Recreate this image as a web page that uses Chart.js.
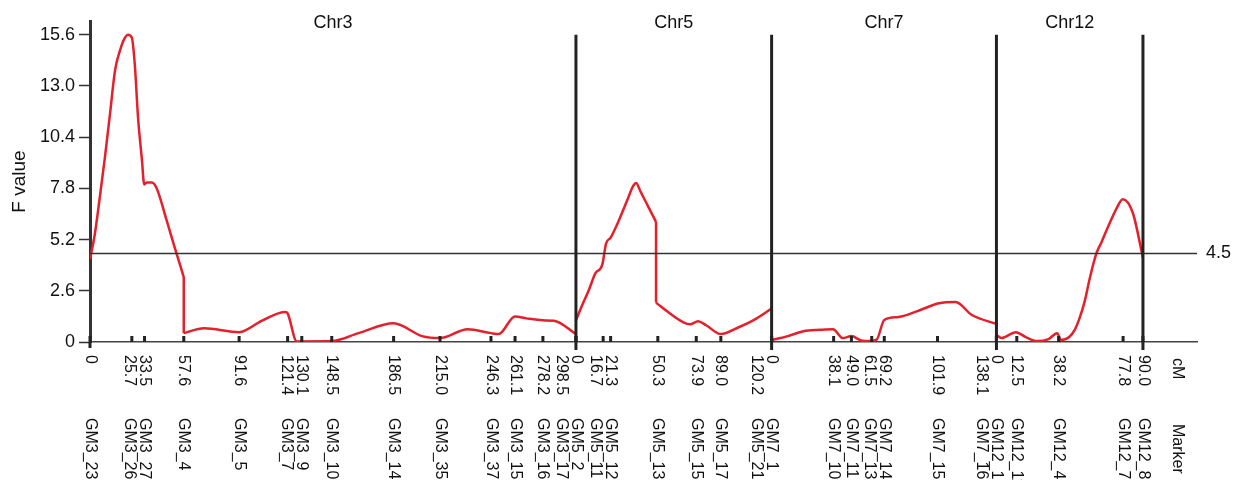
<!DOCTYPE html>
<html>
<head>
<meta charset="utf-8">
<script src="https://cdn.jsdelivr.net/npm/chart.js@4.4.1/dist/chart.umd.min.js"></script>
<style>
  html, body { margin: 0; padding: 0; background: #fff; }
  #wrap { width: 1237px; height: 480px; }
</style>
</head>
<body>
<div id="wrap"><canvas id="qtl" width="1237" height="480"></canvas></div>
<script>
// chromosomes and their lengths (cM)
const chromNames = ['Chr3', 'Chr5', 'Chr7', 'Chr12'];
const chromLengths = [298.5, 120.2, 138.1, 90.0];

// marker positions (cM) and names per chromosome
const chr3Markers = [0, 25.7, 33.5, 57.6, 91.6, 121.4, 130.1, 148.5, 186.5, 215.0, 246.3, 261.1, 278.2, 298.5];
const chr3Names = ['GM3_23', 'GM3_26', 'GM3_27', 'GM3_4', 'GM3_5', 'GM3_7', 'GM3_9', 'GM3_10', 'GM3_14', 'GM3_35', 'GM3_37', 'GM3_15', 'GM3_16', 'GM3_17'];
const chr5Markers = [0, 16.7, 21.3, 50.3, 73.9, 89.0, 120.2];
const chr5Names = ['GM5_2', 'GM5_11', 'GM5_12', 'GM5_13', 'GM5_15', 'GM5_17', 'GM5_21'];
const chr7Markers = [0, 38.1, 49.0, 61.5, 69.2, 101.9, 138.1];
const chr7Names = ['GM7_1', 'GM7_10', 'GM7_11', 'GM7_13', 'GM7_14', 'GM7_15', 'GM7_16'];
const chr12Markers = [0, 12.5, 38.2, 77.8, 90.0];
const chr12Names = ['GM12_1', 'GM12_11', 'GM12_4', 'GM12_7', 'GM12_8'];

// F value scan (cM within chromosome, F)
// a repeated position marks a vertical step in the scan
const chr3Pos = [0, 3, 6.1, 9.2, 12.3, 15.4, 18.4, 21.5, 23.3, 25.7, 27.6, 29.5, 31.9, 33.3, 35, 38, 41, 47, 52, 57.6, 57.6, 70, 91.6, 106, 120, 121.4, 127, 148.5, 165, 186.5, 204, 215, 232, 246.3, 251, 261.1, 268, 278.2, 285, 298.5];
const chr3F = [4.2, 5.5, 7.4, 9.4, 11.6, 13.8, 14.8, 15.45, 15.6, 15.45, 14.0, 11.4, 9.25, 8.0, 8.1, 8.1, 7.8, 6.2, 4.8, 3.3, 0.45, 0.7, 0.5, 1.1, 1.52, 1.45, 0.03, 0.05, 0.45, 0.95, 0.3, 0.2, 0.65, 0.45, 0.4, 1.3, 1.2, 1.1, 1.08, 0.4];
const chr5Pos = [0, 4, 8, 12, 16.1, 18.5, 21.3, 26.5, 32, 35, 37, 39.5, 44, 49.2, 49.2, 57, 66, 70, 75, 80, 89, 100, 110, 120.2];
const chr5F = [1.1, 1.9, 2.65, 3.5, 3.9, 5.0, 5.3, 6.2, 7.3, 7.9, 8.08, 7.67, 6.94, 6.1, 2.0, 1.5, 1.0, 0.9, 1.05, 0.85, 0.4, 0.75, 1.15, 1.7];
const chr7Pos = [0, 10, 19.5, 30, 37.7, 43.8, 49, 55, 60, 64.5, 69.2, 78, 90.6, 102.8, 113, 123, 138.1];
const chr7F = [0.1, 0.3, 0.55, 0.62, 0.65, 0.2, 0.3, 0.08, 0.05, 0.12, 1.12, 1.27, 1.6, 1.97, 2.03, 1.37, 0.92];
const chr12Pos = [0, 3, 12, 18, 25, 32, 37.3, 39.7, 44.7, 48, 51, 54, 57.1, 59.3, 61.5, 64.6, 67.7, 73.9, 77.6, 83.8, 90];
const chr12F = [0.35, 0.2, 0.5, 0.25, 0.05, 0.15, 0.45, 0.1, 0.25, 0.6, 1.2, 2.0, 3.15, 3.9, 4.52, 5.08, 5.69, 6.8, 7.25, 6.55, 4.27];

const threshold = 4.5;
const yTickValues = [0, 2.6, 5.2, 7.8, 10.4, 13.0, 15.6];

const FONT = '"Liberation Sans", Arial, sans-serif';
const RED = '#e3202b';
const INK = '#111';

const markerSets = [chr3Markers, chr5Markers, chr7Markers, chr12Markers];
const nameSets = [chr3Names, chr5Names, chr7Names, chr12Names];
const curvePos = [chr3Pos, chr5Pos, chr7Pos, chr12Pos];
const curveF = [chr3F, chr5F, chr7F, chr12F];

// cumulative start of each chromosome on the x axis
const starts = [];
chromLengths.reduce((acc, len, i) => { starts[i] = acc; return acc + len; }, 0);

// split each scan into smooth runs and straight vertical steps
const curveSets = [];
function lineSet(points, smooth) {
    return {
        data: points,
        borderColor: RED,
        borderWidth: 2.5,
        pointRadius: 0,
        cubicInterpolationMode: smooth ? 'monotone' : 'default',
        tension: 0,
        fill: false
    };
}
curvePos.forEach((pos, i) => {
    let run = [];
    pos.forEach((p, j) => {
        const pt = { x: starts[i] + p, y: curveF[i][j] };
        if (j > 0 && p === pos[j - 1]) {
            curveSets.push(lineSet(run, true));
            curveSets.push(lineSet([run[run.length - 1], pt], false));
            run = [pt];
        } else {
            run.push(pt);
        }
    });
    curveSets.push(lineSet(run, true));
});

const overlay = {
    id: 'overlay',
    afterDatasetsDraw(chart) {
        const { ctx, scales: { x, y } } = chart;
        const base = y.getPixelForValue(0);
        const topY = y.getPixelForValue(yTickValues[yTickValues.length - 1]);
        ctx.save();
        // marker ticks
        ctx.fillStyle = '#222';
        markerSets.forEach((ms, i) => ms.forEach(m => {
            const px = x.getPixelForValue(starts[i] + m);
            ctx.fillRect(px - 1.5, base - 6, 3, 6);
        }));
        // chromosome separators
        ctx.strokeStyle = '#222';
        ctx.lineWidth = 3;
        chromLengths.forEach((len, i) => {
            const px = x.getPixelForValue(starts[i] + len);
            ctx.beginPath();
            ctx.moveTo(px, topY);
            ctx.lineTo(px, base + 8);
            ctx.stroke();
        });
        ctx.beginPath();
        ctx.moveTo(x.getPixelForValue(0), base);
        ctx.lineTo(x.getPixelForValue(0), base + 6);
        ctx.stroke();
        ctx.restore();
    },
    afterDraw(chart) {
        const { ctx, scales: { x, y } } = chart;
        ctx.save();
        ctx.fillStyle = INK;

        // chromosome titles
        ctx.font = '18px ' + FONT;
        ctx.textAlign = 'center';
        ctx.textBaseline = 'middle';
        chromNames.forEach((n, i) => {
            const a = x.getPixelForValue(starts[i]);
            const b = x.getPixelForValue(starts[i] + chromLengths[i]);
            ctx.fillText(n, (a + b) / 2, 23);
        });

        // threshold value
        ctx.textAlign = 'left';
        ctx.fillText(String(threshold), 1206, y.getPixelForValue(threshold));

        // rotated cM / marker labels, nudged left where they collide
        const items = [];
        markerSets.forEach((ms, i) => ms.forEach((m, j) => {
            items.push({ px: x.getPixelForValue(starts[i] + m), cm: m === 0 ? '0' : m.toFixed(1), name: nameSets[i][j] });
        }));
        for (let k = items.length - 2; k >= 0; k--) {
            if (items[k].px > items[k + 1].px - 15) items[k].px = items[k + 1].px - 15;
        }
        ctx.font = '16px ' + FONT;
        ctx.textAlign = 'left';
        ctx.textBaseline = 'middle';
        const drawDown = (text, px, py) => {
            ctx.save();
            ctx.translate(px, py);
            ctx.rotate(Math.PI / 2);
            ctx.fillText(text, 0, 0);
            ctx.restore();
        };
        items.forEach(it => {
            drawDown(it.cm, it.px, 355);
            drawDown(it.name, it.px, 418);
        });
        drawDown('cM', 1177, 358);
        drawDown('Marker', 1177, 424);
        ctx.restore();
    }
};

new Chart(document.getElementById('qtl'), {
    type: 'line',
    data: {
        datasets: [
            {
                data: [{ x: 0, y: threshold }, { x: 680, y: threshold }],
                borderColor: '#333',
                borderWidth: 1.5,
                pointRadius: 0,
                tension: 0
            },
            ...curveSets
        ]
    },
    options: {
        responsive: false,
        animation: false,
        layout: { padding: { left: 0, right: 40, top: 21, bottom: 0 } },
        plugins: { legend: { display: false }, tooltip: { enabled: false } },
        scales: {
            x: {
                type: 'linear',
                min: 0,
                max: 680,
                grid: { display: false },
                ticks: { display: false },
                border: { display: true, color: '#444', width: 1.5 },
                afterFit: s => { s.height = 138; }
            },
            y: {
                min: 0,
                max: 16.3,
                afterBuildTicks: s => { s.ticks = yTickValues.map(v => ({ value: v })); },
                ticks: {
                    color: INK,
                    padding: 4,
                    font: { size: 18, family: FONT },
                    callback: v => v === 0 ? '0' : v.toFixed(1)
                },
                grid: { display: true, drawOnChartArea: false, drawTicks: true, tickLength: 11, tickColor: '#333', tickWidth: 1.5 },
                border: { display: true, color: '#333', width: 3 },
                title: { display: true, text: 'F value', color: INK, font: { size: 19, family: FONT }, padding: { top: 8, bottom: 0 } },
                afterFit: s => { s.width = 90; }
            }
        }
    },
    plugins: [overlay]
});
</script>
</body>
</html>
